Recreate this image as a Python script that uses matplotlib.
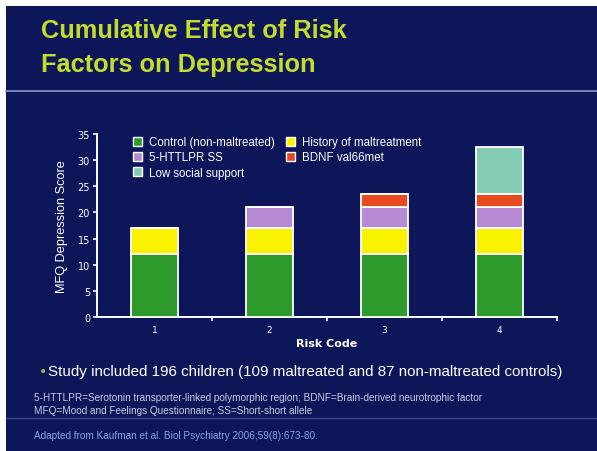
"""Cumulative effect of risk factors on depression, slide recreation."""

import matplotlib

matplotlib.use('Agg')
from matplotlib import pyplot as plt  # noqa: E402
from matplotlib.patches import Rectangle, Patch  # noqa: E402
from matplotlib.lines import Line2D  # noqa: E402

risk_codes = [1, 2, 3, 4]
control = [12, 12, 12, 12]
maltreatment = [5, 5, 5, 5]
httlpr_ss = [0, 4, 4, 4]
bdnf = [0, 0, 2.5, 2.5]
low_support = [0, 0, 0, 9]

series = [
    ('Control (non-maltreated)', control, '#2f9a2c'),
    ('History of maltreatment', maltreatment, '#fbf200'),
    ('5-HTTLPR SS', httlpr_ss, '#b58ad2'),
    ('BDNF val66met', bdnf, '#e64a1e'),
    ('Low social support', low_support, '#84cdb4'),
]

NAVY = '#0e165a'
TITLE = '#c4dc2c'

fig = plt.figure(figsize=(5.97, 4.52), dpi=100)
fig.patch.set_facecolor('white')
fig.patches.append(Rectangle((6 / 597, 0), 1, 1 - 7 / 452, transform=fig.transFigure,
                             facecolor=NAVY, edgecolor='none', zorder=-10))

# title block
fig.text(41 / 597, 1 - 38 / 452, 'Cumulative Effect of Risk', color=TITLE,
         fontsize=18.3, fontweight='bold', fontfamily='Liberation Sans', va='baseline')
fig.text(41 / 597, 1 - 72 / 452, 'Factors on Depression', color=TITLE,
         fontsize=18.3, fontweight='bold', fontfamily='Liberation Sans', va='baseline')
fig.add_artist(Line2D([6 / 597, 1], [1 - 92 / 452] * 2, transform=fig.transFigure,
                      color='#8a96c8', lw=1.2))

ax = fig.add_axes([97 / 597, 1 - 318 / 452, 460 / 597, 183 / 452])
ax.set_facecolor('none')

bottom = [0] * len(risk_codes)
handles = {}
for label, values, color in series:
    ax.bar(risk_codes, values, width=0.41, bottom=bottom, color=color,
           edgecolor='white', linewidth=1.3, zorder=3)
    bottom = [b + v for b, v in zip(bottom, values)]
    handles[label] = Patch(facecolor=color, edgecolor='white', linewidth=1.0)

ax.set_xlim(0.5, 4.5)
ax.set_ylim(0, 35)
ax.set_yticks(range(0, 36, 5))
ax.set_xticks(risk_codes)
ax.set_xticks([1.5, 2.5, 3.5, 4.5], minor=True)
ax.tick_params(axis='x', which='major', length=0, colors='white', labelsize=6.5, pad=6)
ax.tick_params(axis='x', which='minor', length=3, width=1.2, color='white', direction='out')
ax.tick_params(axis='y', length=3, width=1.2, colors='white', labelsize=7, pad=2)
for side in ('top', 'right'):
    ax.spines[side].set_visible(False)
for side in ('left', 'bottom'):
    ax.spines[side].set_color('white')
    ax.spines[side].set_linewidth(1.4)

ax.set_ylabel('MFQ Depression Score', color='white', fontsize=9.2,
              fontfamily='Liberation Sans', labelpad=7)
ax.set_xlabel('Risk Code', color='white', fontsize=8, fontweight='bold', labelpad=3)

order = ['Control (non-maltreated)', '5-HTTLPR SS', 'Low social support',
         'History of maltreatment', 'BDNF val66met']
leg = ax.legend([handles[k] for k in order], order, ncol=2, loc='upper left',
                bbox_to_anchor=(0.055, 1.045), frameon=False,
                prop={'family': 'Liberation Sans', 'size': 8.3},
                labelcolor='white', handlelength=0.8, handleheight=0.8,
                handletextpad=0.6, columnspacing=1.0, labelspacing=0.28)

# footer text
fig.text(39 / 597, 1 - 376 / 452, '•', color='#9fbf3a', fontsize=10, va='baseline')
fig.text(48 / 597, 1 - 376 / 452,
         'Study included 196 children (109 maltreated and 87 non-maltreated controls)',
         color='white', fontsize=10.9, fontfamily='Liberation Sans', va='baseline')
fig.text(34 / 597, 1 - 401 / 452,
         '5-HTTLPR=Serotonin transporter-linked polymorphic region; '
         'BDNF=Brain-derived neurotrophic factor',
         color='#c8cce0', fontsize=7.2, fontfamily='Liberation Sans', va='baseline')
fig.text(34 / 597, 1 - 414 / 452,
         'MFQ=Mood and Feelings Questionnaire; SS=Short-short allele',
         color='#c8cce0', fontsize=7.2, fontfamily='Liberation Sans', va='baseline')
fig.add_artist(Line2D([6 / 597, 1], [1 - 419 / 452] * 2, transform=fig.transFigure,
                      color='#3a4690', lw=1.0))
fig.text(34 / 597, 1 - 439 / 452,
         'Adapted from Kaufman et al. Biol Psychiatry 2006;59(8):673-80.',
         color='#8aa6e0', fontsize=7.2, fontfamily='Liberation Sans', va='baseline')

fig.savefig('out.png', dpi=100, facecolor=fig.get_facecolor())
plt.close(fig)
